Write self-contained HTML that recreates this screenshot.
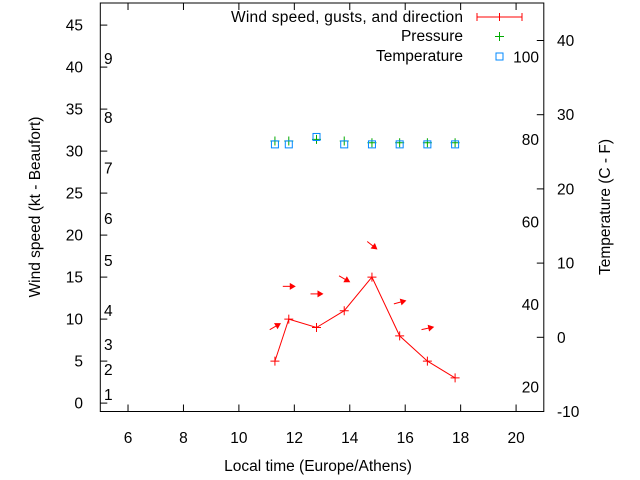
<!DOCTYPE html>
<html><head><meta charset="utf-8"><style>
html,body{margin:0;padding:0;background:#fff;}
svg{display:block;font-family:"Liberation Sans",sans-serif;font-size:15.5px;}
</style></head><body>
<svg id="chart" width="640" height="480" viewBox="0 0 640 480" xmlns="http://www.w3.org/2000/svg">
<rect x="0" y="0" width="640" height="480" fill="#fff"/>
<g id="axes"></g>
<g id="series"></g>
<g id="legend">
  <text x="463" y="22" text-anchor="end" textLength="232">Wind speed, gusts, and direction</text>
  <g stroke="#f00" stroke-width="1">
    <line x1="477" y1="17" x2="522" y2="17"/><line x1="477" y1="13" x2="477" y2="21"/><line x1="522" y1="13" x2="522" y2="21"/><line x1="499.5" y1="13" x2="499.5" y2="21"/>
  </g>
  <text x="463" y="41" text-anchor="end">Pressure</text>
  <g stroke="#0a0" stroke-width="1"><line x1="495" y1="36.5" x2="504" y2="36.5"/><line x1="499.5" y1="32" x2="499.5" y2="41"/></g>
  <text x="463" y="61" text-anchor="end">Temperature</text>
  <rect x="496" y="53" width="7" height="7" fill="none" stroke="#08f" stroke-width="1"/>
</g>
<text x="318" y="471" text-anchor="middle">Local time (Europe/Athens)</text>
<text transform="translate(40,207) rotate(-90)" text-anchor="middle">Wind speed (kt - Beaufort)</text>
<text transform="translate(610,207) rotate(-90)" text-anchor="middle">Temperature (C - F)</text>
</svg>
<script>
// data
const times = [11.3, 11.8, 12.8, 13.8, 14.8, 15.8, 16.8, 17.8];
const windSpeed = [5, 10, 9, 11, 15, 8, 5, 3];
const gustSpeed = [9.1, 13.9, 13, 14.8, 18.8, 12, 8.9];
const gustTimes = [11.3, 11.8, 12.8, 13.8, 14.8, 15.8, 16.8];
const windAngle = [-30, 0, 0, 30, 38, -15, -12];
const pressure = [31.2, 31.2, 31.4, 31.2, 31.0, 31.0, 31.0, 31.0];
const temperature = [26.0, 26.0, 27.0, 26.0, 26.0, 26.0, 26.0, 26.0];
const xTicks = [6, 8, 10, 12, 14, 16, 18, 20];
const yTicks = [0, 5, 10, 15, 20, 25, 30, 35, 40, 45];
const y2Ticks = [-10, 0, 10, 20, 30, 40];
const fahrenheitLabels = [20, 40, 60, 80, 100];
const beaufortLabels = [1, 2, 3, 4, 5, 6, 7, 8, 9];
const beaufortKnots = [1, 4, 7, 11, 17, 22, 28, 34, 41];

const L=100.3, R=543.8, T=3, B=411.5;
const X = h => L + (h-5)*(R-L)/16;
const Y = v => B - (v+1)*8.4;
const Y2 = c => B - (c+10)*7.42;
const NS="http://www.w3.org/2000/svg";
function mk(tag, attrs, parent){const e=document.createElementNS(NS,tag);for(const k in attrs)e.setAttribute(k,attrs[k]);parent.appendChild(e);return e;}
const ax=document.getElementById('axes'), se=document.getElementById('series');

let fr=mk('rect',{x:L,y:T,width:R-L,height:B-T,fill:'none',stroke:'#000','stroke-width':1},ax);



xTicks.forEach(t=>{
  const x=X(t);
  let l=mk('line',{x1:x,y1:B,x2:x,y2:B-7,stroke:'#000'},ax);
  
  
  let l2=mk('line',{x1:x,y1:T,x2:x,y2:T+7,stroke:'#000'},ax);
  
  
  let tx=mk('text',{x:x,y:443,'text-anchor':'middle'},ax); tx.textContent=t;
  
  
});
yTicks.forEach(t=>{
  const y=Y(t);
  let l=mk('line',{x1:L,y1:y,x2:L+7,y2:y,stroke:'#000'},ax);
  
  
  let tx=mk('text',{x:83,y:y+5.5,'text-anchor':'end'},ax); tx.textContent=t;
  
  
});
y2Ticks.forEach(t=>{
  const y=Y2(t);
  let l=mk('line',{x1:R,y1:y,x2:R-7,y2:y,stroke:'#000'},ax);
  
  
  let tx=mk('text',{x:557,y:y+5.5},ax); tx.textContent=t;
  
  
});
fahrenheitLabels.forEach(f=>{
  const y=Y2((f-32)*5/9);
  let tx=mk('text',{x:539,y:y+5.5,'text-anchor':'end'},ax); tx.textContent=f;
  
  
});
beaufortLabels.forEach((b,i)=>{
  let tx=mk('text',{x:104,y:Y(beaufortKnots[i])+5.5},ax); tx.textContent=b;
  
  
});

// wind line
let pl=mk('polyline',{points:times.map((t,i)=>X(t)+','+Y(windSpeed[i])).join(' '),fill:'none',stroke:'#f00','stroke-width':1},se);


times.forEach((t,i)=>{
  const x=X(t), y=Y(windSpeed[i]);
  let g=mk('path',{d:`M${x-4.5},${y}H${x+4.5}M${x},${y-4.5}V${y+4.5}`,stroke:'#f00','stroke-width':1},se);
  
  
});
// gust arrows
gustTimes.forEach((t,i)=>{
  const x=X(t), y=Y(gustSpeed[i]);
  const g=mk('g',{transform:`translate(${x},${y}) rotate(${windAngle[i]})`},se);
  
  
  mk('line',{x1:-6,y1:0,x2:4,y2:0,stroke:'#f00','stroke-width':1},g);
  mk('polygon',{points:'7,0 1,-3.5 1,3.5',fill:'#f00'},g);
});
// pressure
times.forEach((t,i)=>{
  const x=X(t), y=Y(pressure[i]);
  let g=mk('path',{d:`M${x-4.5},${y}H${x+4.5}M${x},${y-4.5}V${y+4.5}`,stroke:'#0a0','stroke-width':1},se);
  
  
});
// temperature
times.forEach((t,i)=>{
  const x=X(t), y=Y2(temperature[i]);
  let r=mk('rect',{x:x-3.5,y:y-3.5,width:7,height:7,fill:'none',stroke:'#08f','stroke-width':1},se);
  
  
});
</script>
</body></html>
